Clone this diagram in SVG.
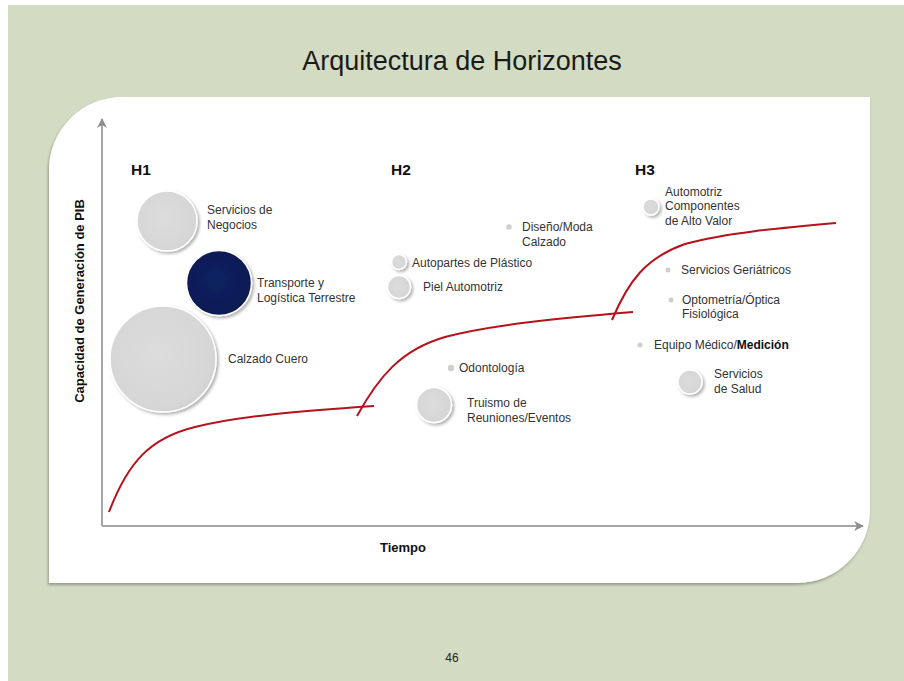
<svg xmlns="http://www.w3.org/2000/svg" width="904" height="681" viewBox="0 0 904 681">
<defs>
<style>
text{font-family:"Liberation Sans",Arial,sans-serif;fill:#333}
.lbl{font-size:12px}
.h{font-size:15.5px;font-weight:bold;fill:#111}
.ax{font-size:13px;font-weight:bold;fill:#111}
.axis{stroke:#a6a6a6;stroke-width:2;fill:none}
.curve{stroke:#b5121b;stroke-width:2;fill:none}
.bub{fill:url(#gray);stroke:#fff;stroke-width:1.5;filter:url(#sh)}
.dot{fill:#cfcfcf;filter:url(#sh2)}
</style>
<radialGradient id="gray" cx="0.45" cy="0.45" r="0.6">
<stop offset="0" stop-color="#dcdcdc"/><stop offset="0.85" stop-color="#d6d6d6"/><stop offset="1" stop-color="#cfcfcf"/>
</radialGradient>
<radialGradient id="navy" cx="0.45" cy="0.45" r="0.6">
<stop offset="0" stop-color="#0c2262"/><stop offset="1" stop-color="#081a52"/>
</radialGradient>
<filter id="sh" x="-30%" y="-30%" width="160%" height="160%">
<feDropShadow dx="2" dy="2" stdDeviation="1.5" flood-color="#000" flood-opacity="0.3"/>
</filter>
<filter id="sh2" x="-80%" y="-80%" width="260%" height="260%">
<feGaussianBlur stdDeviation="0.4"/>
</filter>
<filter id="psh" x="-5%" y="-5%" width="110%" height="112%">
<feDropShadow dx="-1" dy="2" stdDeviation="1.5" flood-color="#000" flood-opacity="0.3"/>
</filter>
<marker id="arr" viewBox="0 0 10 10" refX="9" refY="5" markerWidth="5" markerHeight="5" orient="auto" markerUnits="strokeWidth">
<path d="M0,0 L10,5 L0,10 L3,5 Z" fill="#8c8c8c"/>
</marker>
</defs>
<rect x="0" y="0" width="904" height="681" fill="#ffffff"/>
<rect x="8" y="5" width="896" height="676" fill="#d3dcc3"/>
<text x="462" y="70" text-anchor="middle" style="font-size:27px;fill:#1a1a1a">Arquitectura de Horizontes</text>
<path d="M49,583 L49,170 A73,73 0 0 1 122,97 L870,97 L870,510 A73,73 0 0 1 797,583 Z" fill="#ffffff" filter="url(#psh)"/>
<g id="connectors">
<path class="axis" d="M102,526 L102,119" marker-end="url(#arr)"/>
<path class="axis" d="M102,526 L863,526" marker-end="url(#arr)"/>
<path class="curve" d="M109,512 C128,462 150,438 195,427 C240,416 300,411 374,406"/>
<path class="curve" d="M357,416 C378,378 400,350 445,337 C490,325 560,318 633,312"/>
<path class="curve" d="M612,320 C628,282 645,258 685,244 C725,233 780,228 836,223"/>
</g>
<text class="ax" transform="translate(84,301) rotate(-90)" text-anchor="middle">Capacidad de Generación de PIB</text>
<text class="ax" x="403" y="552" text-anchor="middle">Tiempo</text>
<text class="h" x="131" y="175">H1</text>
<text class="h" x="391" y="175">H2</text>
<text class="h" x="635" y="175">H3</text>
<g id="servicios-negocios">
<circle class="bub" cx="167" cy="221" r="30"/>
<text class="lbl" x="207" y="214">Servicios de</text>
<text class="lbl" x="207" y="229">Negocios</text>
</g>
<g id="transporte">
<circle cx="219" cy="283" r="32.5" fill="url(#navy)" stroke="#fff" stroke-width="1.5" filter="url(#sh)"/>
<text class="lbl" x="257" y="287">Transporte y</text>
<text class="lbl" x="257" y="302">Logística Terrestre</text>
</g>
<g id="calzado-cuero">
<circle class="bub" cx="163" cy="359" r="53"/>
<text class="lbl" x="228" y="363">Calzado Cuero</text>
</g>
<g id="diseno-moda">
<circle class="dot" cx="509" cy="227" r="2.8"/>
<text class="lbl" x="522" y="231">Diseño/Moda</text>
<text class="lbl" x="522" y="246">Calzado</text>
</g>
<g id="autopartes">
<circle class="bub" cx="399" cy="262" r="7.5"/>
<text class="lbl" x="412" y="267">Autopartes de Plástico</text>
</g>
<g id="piel-automotriz">
<circle class="bub" cx="399" cy="287" r="11.5"/>
<text class="lbl" x="423" y="291">Piel Automotriz</text>
</g>
<g id="odontologia">
<circle class="dot" cx="451" cy="368" r="3.2"/>
<text class="lbl" x="459" y="372">Odontología</text>
</g>
<g id="truismo">
<circle class="bub" cx="434" cy="405" r="17.5"/>
<text class="lbl" x="467" y="407">Truismo de</text>
<text class="lbl" x="467" y="422">Reuniones/Eventos</text>
</g>
<g id="automotriz-componentes">
<circle class="bub" cx="651" cy="207" r="8"/>
<text class="lbl" x="665" y="196">Automotriz</text>
<text class="lbl" x="665" y="210">Componentes</text>
<text class="lbl" x="665" y="225">de Alto Valor</text>
</g>
<g id="servicios-geriatricos">
<circle class="dot" cx="668" cy="270" r="2.5"/>
<text class="lbl" x="681" y="274">Servicios Geriátricos</text>
</g>
<g id="optometria">
<circle class="dot" cx="671" cy="300" r="2.5"/>
<text class="lbl" x="682" y="304">Optometría/Óptica</text>
<text class="lbl" x="682" y="318">Fisiológica</text>
</g>
<g id="equipo-medico">
<circle class="dot" cx="640" cy="345" r="2.5"/>
<text class="lbl" x="654" y="349">Equipo Médico/<tspan style="font-weight:bold;fill:#111">Medición</tspan></text>
</g>
<g id="servicios-salud">
<circle class="bub" cx="690" cy="382" r="12"/>
<text class="lbl" x="714" y="378">Servicios</text>
<text class="lbl" x="714" y="393">de Salud</text>
</g>
<text x="452" y="662" text-anchor="middle" style="font-size:12px;fill:#222">46</text>
</svg>
